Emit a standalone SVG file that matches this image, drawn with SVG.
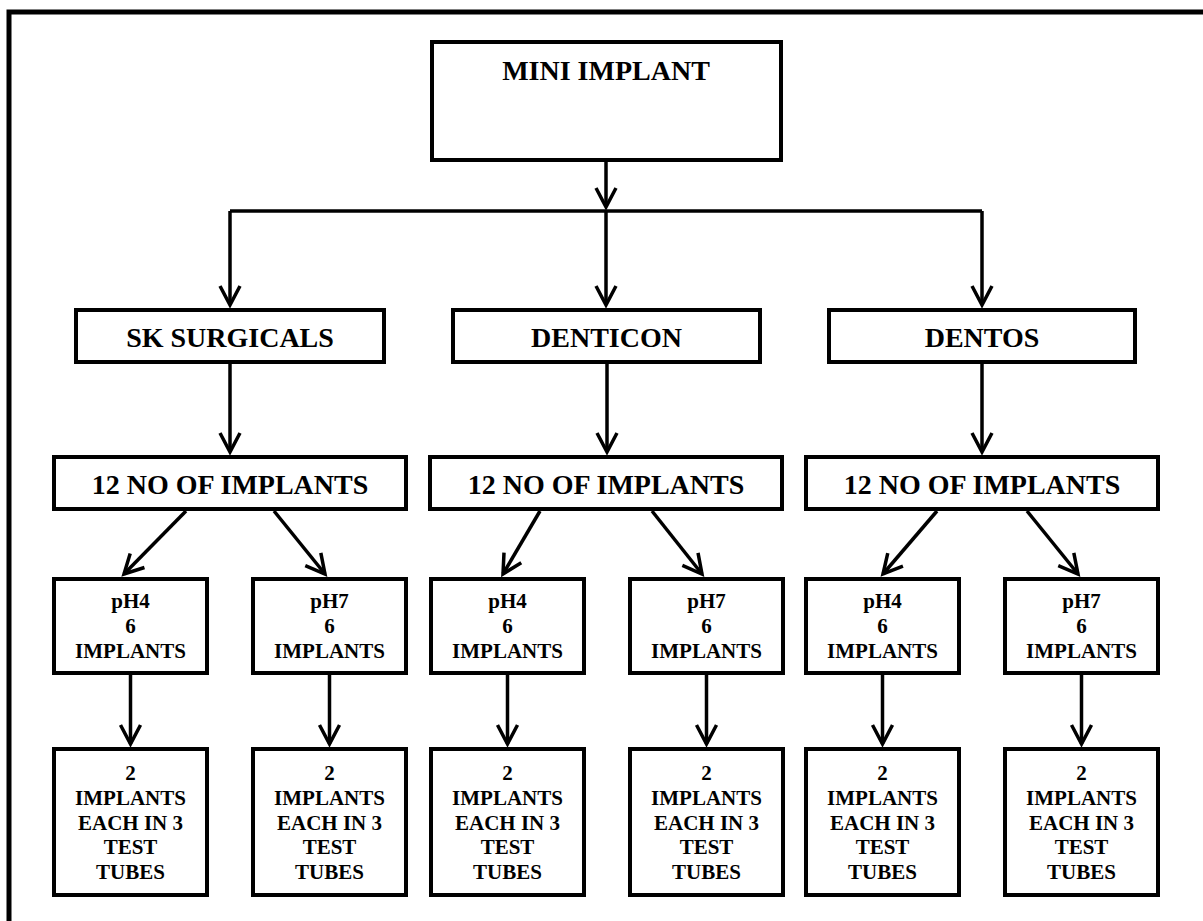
<svg xmlns="http://www.w3.org/2000/svg" width="1203" height="921" viewBox="0 0 1203 921">
<style>
.box{fill:#fff;stroke:#000;stroke-width:4}
.t{font-weight:bold;fill:#000;text-anchor:middle}
.big{font-size:28px}
.small{font-size:21px}
.ln{stroke:#000;stroke-width:3.5;fill:none}
.arr{marker-end:url(#ah)}
</style>
<defs>
<marker id="ah" markerUnits="userSpaceOnUse" viewBox="-24 -14 30 28" refX="0" refY="0" markerWidth="30" markerHeight="28" orient="auto" overflow="visible">
<path d="M-19,-10 L0,0 L-19,10" fill="none" stroke="#000" stroke-width="3.5" stroke-linejoin="miter"/>
</marker>
</defs>
<rect width="1203" height="921" fill="#fff"/>
<path d="M9,921 V12 H1203" fill="none" stroke="#000" stroke-width="5"/>

<g id="connectors">
<line class="ln arr" x1="606" y1="162" x2="606" y2="207"/>
<path class="ln" d="M230,211 H982"/>
<line class="ln arr" x1="230" y1="211" x2="230" y2="305"/>
<line class="ln arr" x1="606" y1="211" x2="606" y2="305"/>
<line class="ln arr" x1="982" y1="211" x2="982" y2="305"/>
<line class="ln arr" x1="230" y1="364" x2="230" y2="452"/>
<line class="ln arr" x1="607" y1="364" x2="607" y2="452"/>
<line class="ln arr" x1="982" y1="364" x2="982" y2="452"/>
<line class="ln arr" x1="186" y1="511" x2="124" y2="574"/>
<line class="ln arr" x1="274" y1="511" x2="325" y2="574"/>
<line class="ln arr" x1="540" y1="511" x2="503" y2="574"/>
<line class="ln arr" x1="652" y1="511" x2="702" y2="574"/>
<line class="ln arr" x1="937" y1="511" x2="883" y2="574"/>
<line class="ln arr" x1="1027" y1="511" x2="1078" y2="574"/>
<line class="ln arr" x1="130.5" y1="675" x2="130.5" y2="744"/>
<line class="ln arr" x1="329.5" y1="675" x2="329.5" y2="744"/>
<line class="ln arr" x1="507.5" y1="675" x2="507.5" y2="744"/>
<line class="ln arr" x1="706.5" y1="675" x2="706.5" y2="744"/>
<line class="ln arr" x1="882.5" y1="675" x2="882.5" y2="744"/>
<line class="ln arr" x1="1081.5" y1="675" x2="1081.5" y2="744"/>
</g>

<g font-family="Liberation Serif, Times New Roman, serif">
<g id="mini"><rect class="box" x="432" y="42" width="349" height="118"/><text class="t big" x="606" y="80">MINI IMPLANT</text></g>

<g id="sk"><rect class="box" x="76" y="310" width="308" height="52"/><text class="t big" x="230" y="347">SK SURGICALS</text></g>
<g id="denticon"><rect class="box" x="453" y="310" width="307" height="52"/><text class="t big" x="606.5" y="347">DENTICON</text></g>
<g id="dentos"><rect class="box" x="829" y="310" width="306" height="52"/><text class="t big" x="982" y="347">DENTOS</text></g>

<g id="n1"><rect class="box" x="54" y="457" width="352" height="52"/><text class="t big" x="230" y="494">12 NO OF IMPLANTS</text></g>
<g id="n2"><rect class="box" x="430" y="457" width="352" height="52"/><text class="t big" x="606" y="494">12 NO OF IMPLANTS</text></g>
<g id="n3"><rect class="box" x="806" y="457" width="352" height="52"/><text class="t big" x="982" y="494">12 NO OF IMPLANTS</text></g>

<g id="p1"><rect class="box" x="54" y="579" width="153" height="94"/><text class="t small" x="130.5" y="608">pH4</text><text class="t small" x="130.5" y="633">6</text><text class="t small" x="130.5" y="658">IMPLANTS</text></g>
<g id="p2"><rect class="box" x="253" y="579" width="153" height="94"/><text class="t small" x="329.5" y="608">pH7</text><text class="t small" x="329.5" y="633">6</text><text class="t small" x="329.5" y="658">IMPLANTS</text></g>
<g id="p3"><rect class="box" x="431" y="579" width="153" height="94"/><text class="t small" x="507.5" y="608">pH4</text><text class="t small" x="507.5" y="633">6</text><text class="t small" x="507.5" y="658">IMPLANTS</text></g>
<g id="p4"><rect class="box" x="630" y="579" width="153" height="94"/><text class="t small" x="706.5" y="608">pH7</text><text class="t small" x="706.5" y="633">6</text><text class="t small" x="706.5" y="658">IMPLANTS</text></g>
<g id="p5"><rect class="box" x="806" y="579" width="153" height="94"/><text class="t small" x="882.5" y="608">pH4</text><text class="t small" x="882.5" y="633">6</text><text class="t small" x="882.5" y="658">IMPLANTS</text></g>
<g id="p6"><rect class="box" x="1005" y="579" width="153" height="94"/><text class="t small" x="1081.5" y="608">pH7</text><text class="t small" x="1081.5" y="633">6</text><text class="t small" x="1081.5" y="658">IMPLANTS</text></g>

<g id="b1"><rect class="box" x="54" y="749" width="153" height="146"/><text class="t small" x="130.5" y="780">2</text><text class="t small" x="130.5" y="805">IMPLANTS</text><text class="t small" x="130.5" y="830">EACH IN 3</text><text class="t small" x="130.5" y="854">TEST</text><text class="t small" x="130.5" y="879">TUBES</text></g>
<g id="b2"><rect class="box" x="253" y="749" width="153" height="146"/><text class="t small" x="329.5" y="780">2</text><text class="t small" x="329.5" y="805">IMPLANTS</text><text class="t small" x="329.5" y="830">EACH IN 3</text><text class="t small" x="329.5" y="854">TEST</text><text class="t small" x="329.5" y="879">TUBES</text></g>
<g id="b3"><rect class="box" x="431" y="749" width="153" height="146"/><text class="t small" x="507.5" y="780">2</text><text class="t small" x="507.5" y="805">IMPLANTS</text><text class="t small" x="507.5" y="830">EACH IN 3</text><text class="t small" x="507.5" y="854">TEST</text><text class="t small" x="507.5" y="879">TUBES</text></g>
<g id="b4"><rect class="box" x="630" y="749" width="153" height="146"/><text class="t small" x="706.5" y="780">2</text><text class="t small" x="706.5" y="805">IMPLANTS</text><text class="t small" x="706.5" y="830">EACH IN 3</text><text class="t small" x="706.5" y="854">TEST</text><text class="t small" x="706.5" y="879">TUBES</text></g>
<g id="b5"><rect class="box" x="806" y="749" width="153" height="146"/><text class="t small" x="882.5" y="780">2</text><text class="t small" x="882.5" y="805">IMPLANTS</text><text class="t small" x="882.5" y="830">EACH IN 3</text><text class="t small" x="882.5" y="854">TEST</text><text class="t small" x="882.5" y="879">TUBES</text></g>
<g id="b6"><rect class="box" x="1005" y="749" width="153" height="146"/><text class="t small" x="1081.5" y="780">2</text><text class="t small" x="1081.5" y="805">IMPLANTS</text><text class="t small" x="1081.5" y="830">EACH IN 3</text><text class="t small" x="1081.5" y="854">TEST</text><text class="t small" x="1081.5" y="879">TUBES</text></g>
</g>
</svg>
